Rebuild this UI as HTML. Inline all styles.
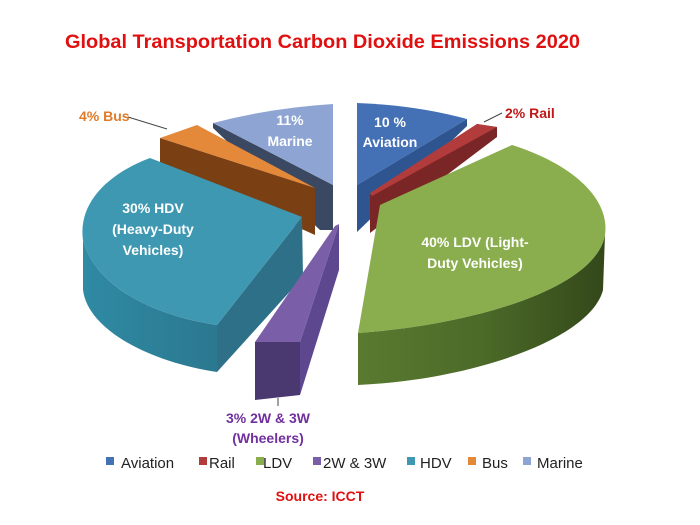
<!DOCTYPE html>
<html><head><meta charset="utf-8"><style>
html,body{margin:0;padding:0;background:#fff;}
svg{display:block;font-family:"Liberation Sans",sans-serif;}
.w{fill:#fff;font-weight:bold;font-size:14px;text-anchor:middle;}
.lg{font-size:15px;fill:#222;}
</style></head><body>
<svg width="700" height="525" viewBox="0 0 700 525">
<defs>
<linearGradient id="gL" x1="0" x2="1"><stop offset="0" stop-color="#5a7a30"/><stop offset="0.5" stop-color="#4c6a28"/><stop offset="1" stop-color="#33481a"/></linearGradient>
<linearGradient id="gH" x1="0" x2="1"><stop offset="0" stop-color="#2f8aa3"/><stop offset="1" stop-color="#2b7890"/></linearGradient>
</defs>
<text x="65" y="48" font-size="19" font-weight="bold" fill="#e01010" textLength="515" lengthAdjust="spacingAndGlyphs">Global Transportation Carbon Dioxide Emissions 2020</text>

<!-- Marine -->
<path d="M213,123 L333,185 L333,230 L320,230 L213,128 Z" fill="#3a4862"/>
<path d="M213,123 Q270,108 333,104 L333,185 Z" fill="#8ea5d3"/>
<!-- Bus -->
<path d="M160,138 L315,188 L315,235 L160,165 Z" fill="#7a3f12"/>
<path d="M160,138 L197,125 L315,188 Z" fill="#e4883a"/>
<!-- HDV -->
<path d="M302,217 L303,277 L217,372 L217,325 Z" fill="#2d7088"/>
<path d="M83,240 C95,285 150,315 217,325 L217,372 C150,362 88,330 83,290 Z" fill="url(#gH)"/>
<path d="M150,158 L302,217 L217,325 C150,315 95,285 83,240 C78,205 105,175 150,158 Z" fill="#3e98b2"/>
<!-- 2W3W -->
<path d="M339,224 L339,270 L300,395 L300,342 Z" fill="#5d4890"/>
<path d="M255,342 L300,342 L300,395 L255,400 Z" fill="#4a3870"/>
<path d="M335,226 L339,224 L300,342 L255,342 Z" fill="#7a5fa8"/>
<!-- Aviation -->
<path d="M467,119 L467,126 L357,232 L357,185 Z" fill="#2e5590"/>
<path d="M357,103 Q415,105 467,119 L357,185 Z" fill="#4470b6"/>
<!-- Rail -->
<path d="M477,124 L497,127 L497,137 L370,233 L370,195 Z" fill="#7a2626"/>
<path d="M477,124 L497,127 L372,196 L370,193 Z" fill="#b23c3c"/>
<!-- LDV -->
<path d="M358,333 C470,325 595,290 605,235 L603,290 C590,340 470,380 358,385 Z" fill="url(#gL)"/>
<path d="M512,145 C575,165 610,200 605,235 C595,290 470,325 358,333 L380,205 Z" fill="#8aad4e"/>

<!-- leader lines -->
<line x1="128" y1="117" x2="167" y2="129" stroke="#444" stroke-width="1"/>
<line x1="502" y1="113" x2="484" y2="122" stroke="#444" stroke-width="1"/>
<line x1="278" y1="398" x2="278" y2="406" stroke="#444" stroke-width="1"/>

<!-- labels -->
<text class="w" x="290" y="125">11%</text>
<text class="w" x="290" y="146">Marine</text>
<text class="w" x="390" y="127">10 %</text>
<text class="w" x="390" y="147">Aviation</text>
<text class="w" x="153" y="213">30% HDV</text>
<text class="w" x="153" y="234">(Heavy-Duty</text>
<text class="w" x="153" y="255">Vehicles)</text>
<text class="w" x="475" y="247">40% LDV (Light-</text>
<text class="w" x="475" y="268">Duty Vehicles)</text>
<text x="79" y="121" font-size="14" font-weight="bold" fill="#e07b28">4% Bus</text>
<text x="505" y="118" font-size="14" font-weight="bold" fill="#c01818">2% Rail</text>
<text x="268" y="423" font-size="14" font-weight="bold" fill="#7030a0" text-anchor="middle">3% 2W &amp; 3W</text>
<text x="268" y="443" font-size="14" font-weight="bold" fill="#7030a0" text-anchor="middle">(Wheelers)</text>

<!-- legend -->
<rect x="106" y="457" width="8" height="8" fill="#4470b6"/><text class="lg" x="121" y="468">Aviation</text>
<rect x="199" y="457" width="8" height="8" fill="#b23c3c"/><text class="lg" x="209" y="468">Rail</text>
<rect x="256" y="457" width="8" height="8" fill="#8aad4e"/><text class="lg" x="263" y="468">LDV</text>
<rect x="313" y="457" width="8" height="8" fill="#7a5fa8"/><text class="lg" x="323" y="468">2W &amp; 3W</text>
<rect x="407" y="457" width="8" height="8" fill="#3e98b2"/><text class="lg" x="420" y="468">HDV</text>
<rect x="468" y="457" width="8" height="8" fill="#e4883a"/><text class="lg" x="482" y="468">Bus</text>
<rect x="523" y="457" width="8" height="8" fill="#8ea5d3"/><text class="lg" x="537" y="468">Marine</text>

<text x="320" y="501" font-size="14" font-weight="bold" fill="#e01010" text-anchor="middle">Source: ICCT</text>
</svg>
</body></html>
